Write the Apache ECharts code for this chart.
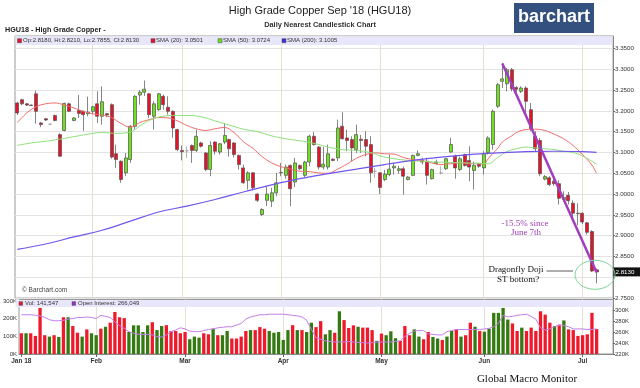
<!DOCTYPE html>
<html><head><meta charset="utf-8">
<script src="https://cdn.jsdelivr.net/npm/echarts@6/dist/echarts.min.js"></script>
<style>html,body{margin:0;padding:0;background:#fff}#c{width:640px;height:388px}</style>
</head><body><div id="c"></div>
<script>
const dates = ['1/10','1/11','1/12','1/15','1/16','1/17','1/18','1/19','1/22','1/23','1/24','1/25','1/26','1/29','1/30','1/31',
'2/1','2/2','2/5','2/6','2/7','2/8','2/9','2/12','2/13','2/14','2/15','2/16','2/20','2/21','2/22','2/23','2/26','2/27','2/28',
'3/1','3/2','3/5','3/6','3/7','3/8','3/9','3/12','3/13','3/14','3/15','3/16','3/19','3/20','3/21','3/22','3/23','3/26','3/27','3/28','3/29',
'4/2','4/3','4/4','4/5','4/6','4/9','4/10','4/11','4/12','4/13','4/16','4/17','4/18','4/19','4/20','4/23','4/24','4/25','4/26','4/27','4/30',
'5/1','5/2','5/3','5/4','5/7','5/8','5/9','5/10','5/11','5/14','5/15','5/16','5/17','5/18','5/21','5/22','5/23','5/24','5/25','5/29','5/30','5/31',
'6/1','6/4','6/5','6/6','6/7','6/8','6/11','6/12','6/13','6/14','6/15','6/18','6/19','6/20','6/21','6/22','6/25','6/26','6/27','6/28','6/29',
'7/2','7/3','7/5','7/6'];
const padDates = ['7/9','7/10','7/11'];
const opens = [3.219,3.227,3.217,3.214,3.241,3.171,3.181,3.168,3.189,3.143,
3.153,3.217,3.177,3.201,3.199,3.193,3.199,3.217,3.187,3.193,
3.215,3.097,3.079,3.051,3.083,3.163,3.238,3.245,3.241,3.187,
3.203,3.235,3.209,3.199,3.155,3.105,3.104,3.117,3.105,3.123,
3.099,3.059,3.125,3.101,3.125,3.131,3.123,3.093,3.063,3.033,
3.051,3.000,2.951,2.985,2.983,3.003,3.051,3.045,3.069,3.029,
3.069,3.045,3.077,3.139,3.113,3.065,3.065,3.084,3.087,3.163,
3.135,3.131,3.107,3.132,3.131,3.119,3.055,3.051,3.035,3.047,
3.063,3.057,3.061,3.035,3.045,3.093,3.081,3.079,3.037,3.073,
3.051,3.061,3.101,3.091,3.059,3.095,3.081,3.057,3.072,3.063,
3.099,3.119,3.211,3.271,3.265,3.299,3.256,3.247,3.255,3.203,
3.139,3.129,3.036,3.039,3.031,3.025,2.987,2.997,2.978,2.954,
2.954,2.931,2.910,2.818];
const closes = [3.195,3.217,3.214,3.213,3.199,3.167,3.178,3.168,3.177,3.091,
3.218,3.199,3.183,3.194,3.191,3.197,3.210,3.187,3.222,3.190,
3.089,3.083,3.035,3.087,3.163,3.235,3.245,3.252,3.191,3.217,
3.241,3.215,3.199,3.159,3.107,3.102,3.104,3.105,3.139,3.115,
3.059,3.117,3.103,3.121,3.141,3.109,3.095,3.071,3.027,3.051,
3.015,2.985,2.963,3.000,3.003,3.027,3.052,3.065,3.013,3.075,
3.061,3.077,3.139,3.119,3.065,3.072,3.097,3.081,3.159,3.133,
3.129,3.111,3.143,3.129,3.115,3.051,3.055,3.016,3.048,3.060,
3.067,3.061,3.043,3.041,3.093,3.097,3.077,3.045,3.059,3.077,
3.051,3.085,3.119,3.063,3.085,3.069,3.065,3.069,3.067,3.097,
3.135,3.199,3.263,3.277,3.299,3.253,3.252,3.255,3.223,3.157,
3.109,3.049,3.042,3.023,3.025,2.990,2.992,2.984,2.954,2.953,
2.933,2.908,2.815,2.813];
const lows = [3.190,3.214,3.212,3.212,3.169,3.161,3.176,3.166,3.175,3.089,
3.151,3.197,3.175,3.183,3.152,3.187,3.192,3.171,3.167,3.185,
3.085,3.063,3.027,3.043,3.075,3.155,3.215,3.236,3.183,3.155,
3.200,3.203,3.191,3.135,3.103,3.081,3.087,3.075,3.101,3.112,
3.055,3.043,3.095,3.095,3.120,3.090,3.088,3.059,3.025,3.011,
3.009,2.981,2.947,2.971,2.969,2.995,3.043,3.037,2.971,3.017,
3.058,3.040,3.067,3.117,3.059,3.059,3.059,3.079,3.079,3.131,
3.103,3.079,3.099,3.099,3.091,3.027,3.039,3.000,3.031,3.043,
3.047,3.049,2.999,3.033,3.043,3.091,3.071,3.023,3.035,3.071,
3.047,3.058,3.099,3.037,3.055,3.066,3.031,3.011,3.063,3.047,
3.095,3.107,3.207,3.255,3.247,3.247,3.245,3.243,3.195,3.151,
3.103,3.043,3.033,3.019,3.020,2.975,2.983,2.975,2.945,2.925,
2.928,2.903,2.813,2.7855];
const highs = [3.222,3.229,3.219,3.215,3.249,3.173,3.183,3.170,3.191,3.146,
3.220,3.220,3.185,3.238,3.201,3.234,3.212,3.247,3.259,3.195,
3.218,3.119,3.081,3.099,3.166,3.238,3.250,3.273,3.243,3.223,
3.243,3.239,3.235,3.201,3.157,3.117,3.115,3.119,3.155,3.126,
3.101,3.127,3.127,3.123,3.171,3.133,3.125,3.095,3.071,3.055,
3.053,3.002,2.966,3.019,3.015,3.051,3.075,3.071,3.071,3.087,
3.071,3.080,3.143,3.149,3.115,3.113,3.119,3.086,3.179,3.197,
3.155,3.139,3.167,3.142,3.151,3.139,3.063,3.053,3.058,3.095,
3.075,3.068,3.066,3.043,3.095,3.105,3.087,3.087,3.061,3.083,
3.067,3.087,3.135,3.095,3.090,3.097,3.115,3.078,3.075,3.103,
3.139,3.203,3.267,3.315,3.303,3.303,3.260,3.259,3.259,3.219,
3.151,3.135,3.046,3.043,3.040,3.033,3.007,3.005,2.985,2.978,
2.956,2.933,2.913,2.821];
const volumeK = [118,118,118,103,262,107,99,107,97,209,
209,159,121,99,140,118,107,144,155,178,
239,209,204,125,163,163,125,163,181,136,
159,164,131,131,118,125,84,99,93,118,
112,144,107,107,131,88,88,99,131,136,
136,153,144,131,121,125,80,136,164,136,
136,125,178,153,187,112,136,121,243,193,
148,163,155,150,150,136,75,116,107,129,
90,75,159,107,140,99,84,125,97,88,
80,99,131,140,99,107,178,155,131,127,
144,234,234,262,196,174,131,150,131,150,
131,243,224,178,159,163,191,140,136,103,
107,112,234,141.5];
const openInterestK = [292,292,292,291,290,287,283,281,281,282,
284,285,287,287,288,287,285,291,289,287,
279,272,267,261,258,256,256,256,255,252,
251,255,261,264,268,266,262,261,261,263,
265,266,268,269,270,270,273,276,284,288,
290,292,292,293,293,293,293,292,291,290,
288,282,265,250,247,244,243,242,242,242,
243,242,241,241,240,241,242,242,242,242,
243,244,252,258,262,263,263,257,256,255,
255,261,263,265,265,265,265,265,265,266,
267,270,276,291,288,289,291,292,293,289,
284,268,264,266,270,274,272,270,266,266,
266,265,265,266];
const sma20 = [[0,3.172],[2,3.195],[4,3.210],[6,3.217],[8,3.219],[10,3.214],[12,3.207],[14,3.199],[16,3.193],[18,3.190],[20,3.184],[22,3.170],[24,3.161],[26,3.172],[28,3.179],[30,3.184],[32,3.183],[34,3.176],[36,3.165],[38,3.157],[40,3.153],[42,3.157],[44,3.160],[46,3.148],[48,3.126],[50,3.110],[52,3.090],[54,3.075],[56,3.066],[58,3.060],[60,3.055],[62,3.054],[64,3.051],[66,3.050],[68,3.060],[70,3.072],[72,3.086],[74,3.095],[76,3.099],[78,3.097],[80,3.096],[82,3.088],[84,3.083],[86,3.080],[88,3.075],[90,3.071],[92,3.073],[94,3.075],[96,3.073],[98,3.073],[99,3.072],[100,3.085],[101,3.098],[102,3.110],[103,3.125],[104,3.133],[105,3.140],[106,3.148],[108,3.155],[110,3.156],[112,3.153],[114,3.144],[116,3.133],[118,3.117],[120,3.095],[122,3.070],[123,3.050]];
const sma50 = [[0,3.117],[3,3.123],[6,3.127],[9,3.132],[12,3.138],[15,3.144],[18,3.148],[21,3.146],[24,3.149],[26,3.164],[28,3.177],[30,3.185],[33,3.189],[36,3.189],[39,3.186],[42,3.176],[45,3.166],[48,3.156],[51,3.150],[54,3.140],[57,3.133],[60,3.128],[63,3.122],[66,3.113],[69,3.107],[72,3.105],[75,3.100],[77,3.092],[80,3.085],[83,3.081],[86,3.079],[89,3.077],[92,3.076],[95,3.075],[98,3.074],[100,3.073],[102,3.088],[104,3.102],[106,3.109],[108,3.113],[110,3.111],[112,3.109],[114,3.107],[116,3.103],[118,3.100],[120,3.092],[123,3.072]];
const sma200 = [[0,2.867],[6,2.880],[12,2.897],[18,2.913],[24,2.935],[30,2.957],[36,2.971],[42,2.987],[48,3.005],[54,3.022],[60,3.037],[66,3.049],[72,3.060],[78,3.071],[84,3.081],[90,3.089],[96,3.095],[102,3.099],[108,3.102],[114,3.103],[120,3.102],[123,3.1005]];
const monthLabels = ['Jan 18','Feb','Mar','Apr','May','Jun','Jul'];
const priceTickFormat = 4;

const SANS = 'Liberation Sans, Arial, sans-serif';
const SERIF = 'Liberation Serif, Times New Roman, serif';
const UP = '#6fe21e', DOWN = '#ea1028', VUP = '#347a12', VDOWN = '#ee1a2c';

const cats = dates.concat(padDates);
const monthStart = new Set();
const monthName = {};
let prevM = null, mc = 0;
cats.forEach((d, i) => {
  const m = d.split('/')[0];
  if (m !== prevM) { monthStart.add(i); monthName[i] = monthLabels[mc++]; prevM = m; }
});
const gridInterval = (i) => i > 0 && monthStart.has(i);
const labelInterval = (i) => monthStart.has(i);

const candles = opens.map((o, i) => [o, closes[i], lows[i], highs[i]]);
const vols = volumeK.map((v, i) => ({
  value: v,
  itemStyle: { color: (i > 0 && closes[i] > closes[i - 1]) ? VUP : VDOWN }
}));

const chart = echarts.init(document.getElementById('c'));
const option = {
  animation: false,
  backgroundColor: '#fff',
  textStyle: { fontFamily: SANS },
  grid: [
    { left: 15, right: 27, top: 36, height: 262.1, show: true, borderColor: '#9a9a9a', borderWidth: 1 },
    { left: 15, right: 27, top: 299.5, height: 54.5, show: true, borderColor: '#9a9a9a', borderWidth: 1 }
  ],
  xAxis: [
    { type: 'category', gridIndex: 0, data: cats, boundaryGap: true,
      axisLine: { show: false }, axisTick: { show: false }, axisLabel: { show: false },
      splitLine: { show: true, alignWithLabel: true, interval: gridInterval, lineStyle: { color: '#e6e1cf', width: 1 } } },
    { type: 'category', gridIndex: 1, data: cats, boundaryGap: true,
      axisLine: { show: true, lineStyle: { color: '#888' } },
      axisTick: { show: true, alignWithLabel: true, interval: labelInterval, length: 3, lineStyle: { color: '#666' } },
      axisLabel: { show: true, interval: labelInterval, formatter: (v, i) => monthName[i] || '', fontSize: 6.5, fontWeight: 'bold', color: '#333', margin: 4, fontFamily: SANS },
      splitLine: { show: true, alignWithLabel: true, interval: gridInterval, lineStyle: { color: '#e6e1cf' } } }
  ],
  yAxis: [
    { type: 'value', gridIndex: 0, position: 'right', min: 2.75, max: 3.38, interval: 0.05,
      axisLine: { show: true, lineStyle: { color: '#888' } },
      axisTick: { show: true, length: 2, lineStyle: { color: '#666' } },
      axisLabel: { fontSize: 6.2, color: '#333', margin: 2, showMaxLabel: false, fontFamily: SANS,
        formatter: v => Math.abs(v - 2.8) < 1e-6 ? '' : v.toFixed(priceTickFormat) },
      splitLine: { show: true, lineStyle: { color: '#e3e3e3' } } },
    { type: 'value', gridIndex: 1, position: 'left', min: 0, max: 310, interval: 100,
      axisLine: { show: false }, axisTick: { show: false },
      axisLabel: { fontSize: 6, color: '#333', margin: 2, showMaxLabel: false, formatter: v => v + 'K', fontFamily: SANS },
      splitLine: { show: false } },
    { type: 'value', gridIndex: 1, position: 'right', min: 220, max: 320, interval: 20,
      axisLine: { show: true, lineStyle: { color: '#888' } },
      axisTick: { show: true, length: 2, lineStyle: { color: '#666' } },
      axisLabel: { fontSize: 6, color: '#333', margin: 2, showMaxLabel: false, formatter: v => v + 'K', fontFamily: SANS },
      splitLine: { show: false } }
  ],
  series: [
    { type: 'candlestick', name: 'HGU18', xAxisIndex: 0, yAxisIndex: 0, data: candles, barWidth: 3.5,
      itemStyle: { color: UP, color0: DOWN, borderColor: '#505050', borderColor0: '#505050', borderColorDoji: '#9a9a9a', borderWidth: 0.7 },
      markLine: { silent: true, symbol: ['none', 'none'], label: { show: false },
        lineStyle: { color: '#a23dc2', width: 2.5, type: 'solid' },
        data: [[{ coord: ['6/7', 3.314] }, { coord: ['7/6', 2.812] }]] } },
    { type: 'line', name: 'SMA20', xAxisIndex: 0, yAxisIndex: 0, data: sma20, showSymbol: false, smooth: 0.4, z: 3,
      lineStyle: { color: '#f26a6a', width: 1 } },
    { type: 'line', name: 'SMA50', xAxisIndex: 0, yAxisIndex: 0, data: sma50, showSymbol: false, smooth: 0.4, z: 3,
      lineStyle: { color: '#8ee07a', width: 1 } },
    { type: 'line', name: 'SMA200', xAxisIndex: 0, yAxisIndex: 0, data: sma200, showSymbol: false, smooth: 0.4, z: 3,
      lineStyle: { color: '#7156ee', width: 1.2 } },
    { type: 'bar', name: 'Vol', xAxisIndex: 1, yAxisIndex: 1, data: vols, barWidth: 3.3 },
    { type: 'line', name: 'OI', xAxisIndex: 1, yAxisIndex: 2, data: openInterestK, showSymbol: false, z: 4,
      lineStyle: { color: '#c47ee8', width: 1 } }
  ]
};
chart.setOption(option);

function T(x, y, text, o) {
  o = o || {};
  const al = o.align || 'left';
  return { type: 'text', x: x, y: y, z: 60, style: {
    text: text, fill: o.fill || '#333', fontSize: o.size || 6, fontWeight: o.weight || 'normal',
    fontFamily: o.family || SANS, textAlign: al, align: al, textVerticalAlign: 'middle', verticalAlign: 'middle' } };
}
function R(x, y, w, h, fill, stroke) {
  return { type: 'rect', z: 55, shape: { x: x, y: y, width: w, height: h },
    style: { fill: fill, stroke: stroke || null, lineWidth: stroke ? 0.5 : 0 } };
}
const ell = chart.convertToPixel({ xAxisIndex: 0, yAxisIndex: 0 }, [dates.length - 1, 2.806]);
const lastY = chart.convertToPixel({ xAxisIndex: 0, yAxisIndex: 0 }, [dates.length - 1, closes[closes.length - 1]])[1];

const g = [
  T(320, 11, "High Grade Copper Sep '18 (HGU18)", { align: 'center', size: 11, fill: '#222' }),
  T(320, 25, 'Daily Nearest Candlestick Chart', { align: 'center', size: 7.4, weight: 'bold', fill: '#333' }),
  T(5, 30, 'HGU18 - High Grade Copper -', { size: 7.2, weight: 'bold', fill: '#222' }),
  R(514, 3, 80, 30, '#34507e'),
  T(554, 17.5, 'barchart', { align: 'center', size: 18, weight: 'bold', fill: '#fff' }),
  R(15.5, 36.5, 597, 8.5, '#e8e6fb'),
  R(17.5, 38.7, 4, 4, DOWN, '#444'), T(23, 40.8, 'Op:2.8180, Hi:2.8210, Lo:2.7855, Cl:2.8130'),
  R(151, 38.7, 4, 4, DOWN, '#444'), T(156, 40.8, 'SMA (20): 3.0501'),
  R(218, 38.7, 4, 4, UP, '#444'), T(223, 40.8, 'SMA (50): 3.0724'),
  R(282, 38.7, 4, 4, '#3b2fe0', '#444'), T(287, 40.8, 'SMA (200): 3.1005'),
  T(22, 290, '\u00a9 Barchart.com', { size: 6.5, fill: '#444' }),
  R(15.5, 300, 597, 7, '#e8e6fb'),
  R(19, 301.7, 3.6, 3.6, VDOWN, '#444'), T(25, 303.6, 'Vol: 141,547'),
  R(72, 301.7, 3.6, 3.6, '#9b30d0', '#444'), T(78, 303.6, 'Open Interest: 266,049'),
  T(527, 379, 'Global Macro Monitor', { align: 'center', size: 11, family: SERIF, fill: '#111' }),
  T(525, 223.5, '-15.5% since', { align: 'center', size: 9, family: SERIF, fill: '#a040b8' }),
  T(526, 232.5, 'June 7th', { align: 'center', size: 9, family: SERIF, fill: '#a040b8' }),
  T(516, 269.5, 'Dragonfly Doji', { align: 'center', size: 9, family: SERIF, fill: '#111' }),
  T(518, 279.5, 'ST bottom?', { align: 'center', size: 9, family: SERIF, fill: '#111' }),
  { type: 'line', z: 60, shape: { x1: 546.5, y1: 271, x2: 573, y2: 271 }, style: { stroke: '#333', lineWidth: 0.8 } },
  { type: 'ellipse', z: 60, shape: { cx: ell[0] - 1.5, cy: ell[1], rx: 20, ry: 14.5 }, style: { fill: null, stroke: '#7fd49a', lineWidth: 1 } },
  R(613.5, lastY - 4.5, 27, 9, '#111'),
  T(615.5, lastY, closes[closes.length - 1].toFixed(4), { size: 6.2, fill: '#fff' })
];
chart.setOption({ graphic: { elements: g } });
</script>
</body></html>
